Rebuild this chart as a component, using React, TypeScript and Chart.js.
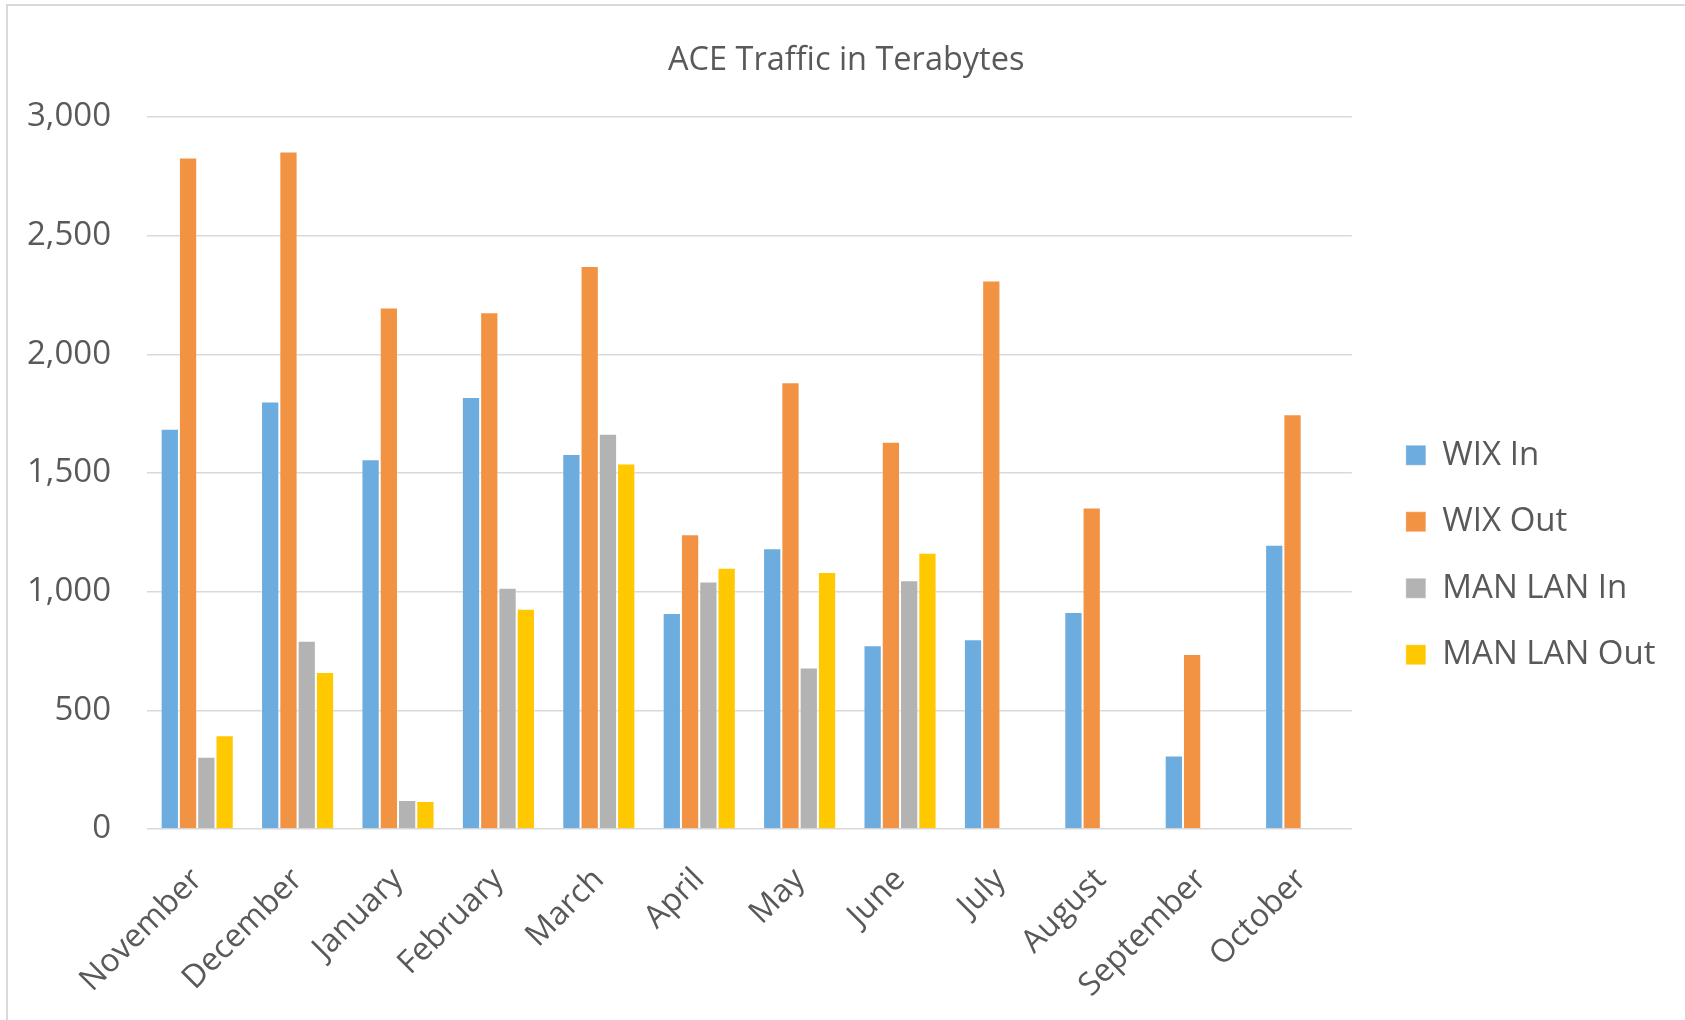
import React, { useEffect, useRef } from "react";
import { Chart, registerables } from "chart.js";

Chart.register(...registerables);

const TITLE = "ACE Traffic in Terabytes";
const months = [
  "November", "December", "January", "February", "March", "April",
  "May", "June", "July", "August", "September", "October",
];
const wixIn = [1686, 1801, 1558, 1820, 1580, 910, 1183, 774, 800, 914, 310, 1198];
const wixOut = [2829, 2855, 2197, 2177, 2372, 1242, 1882, 1632, 2311, 1355, 737, 1748];
const manLanIn = [304, 793, 122, 1017, 1665, 1043, 680, 1048, 2, null, null, null];
const manLanOut = [395, 662, 118, 928, 1540, 1101, 1083, 1164, 6, null, null, null];
const seriesNames = ["WIX In", "WIX Out", "MAN LAN In", "MAN LAN Out"];
const seriesColors = ["#6DACDE", "#F29343", "#B3B3B3", "#FFC800"];
const Y_MIN = 0;
const Y_MAX = 3000;
const Y_STEP = 500;

const W = 1685;
const H = 1110;
const PLOT_LEFT = 147;
const PLOT_BOTTOM = 829;
const LEGEND_GAP = 20.5;
const LEGEND_PAD = 33.5;
const RIGHT_PAD = 19.5;
const LEFT_PAD = 27;
const FONT = "'Open Sans', sans-serif";
const TEXT = "#595959";

export default function App() {
  const ref = useRef<HTMLCanvasElement>(null);

  useEffect(() => {
    const values = [wixIn, wixOut, manLanIn, manLanOut];
    const chart = new Chart(ref.current as HTMLCanvasElement, {
      type: "bar",
      data: {
        labels: months,
        datasets: seriesNames.map((name, i) => ({
          label: name,
          data: values[i] as any,
          backgroundColor: seriesColors[i],
          borderColor: "rgba(255,255,255,0.35)",
          borderWidth: 1,
          categoryPercentage: 0.728,
          barPercentage: 1.0,
        })),
      },
      options: {
        responsive: false,
        animation: false,
        layout: { padding: { left: LEFT_PAD, top: 0, bottom: 0, right: RIGHT_PAD } },
        plugins: {
          title: {
            display: true,
            text: TITLE,
            color: TEXT,
            font: { family: FONT, size: 32.5, weight: "normal" as any },
            padding: { top: 41, bottom: 37 },
          },
          legend: {
            position: "right",
            labels: {
              boxWidth: 20,
              boxHeight: 20,
              padding: LEGEND_PAD,
              color: TEXT,
              font: { family: FONT, size: 33 },
            },
          },
          tooltip: { enabled: false },
        },
        scales: {
          x: {
            grid: { display: false, drawTicks: false },
            border: { display: false },
            ticks: {
              color: TEXT,
              font: { family: FONT, size: 32 },
              maxRotation: 45,
              minRotation: 45,
              autoSkip: false,
              padding: 32,
            },
            afterFit: (s: any) => {
              s.height = H - PLOT_BOTTOM;
            },
          },
          y: {
            min: Y_MIN,
            max: Y_MAX,
            grid: { color: "#D9D9D9", lineWidth: 1.5, drawTicks: false },
            border: { display: false },
            ticks: {
              stepSize: Y_STEP,
              color: TEXT,
              font: { family: FONT, size: 33 },
              padding: 36,
              callback: (v: any) => Number(v).toLocaleString("en-US"),
            },
            afterFit: (s: any) => {
              s.width = PLOT_LEFT - LEFT_PAD;
            },
          },
          yR: {
            position: "right",
            display: false,
            afterFit: (s: any) => {
              s.width = LEGEND_GAP;
            },
          },
        },
      },
    });
    return () => chart.destroy();
  }, []);

  return (
    <div
      style={{
        position: "absolute",
        left: 0,
        top: 0,
        width: W,
        height: 1020,
        overflow: "hidden",
        background: "#fff",
      }}
    >
      <div
        style={{
          position: "absolute",
          left: 6,
          top: 4,
          width: W + 40,
          height: 1100,
          borderTop: "2px solid #D9D9D9",
          borderLeft: "2px solid #D9D9D9",
        }}
      />
      <canvas
        ref={ref}
        width={W}
        height={H}
        style={{ position: "absolute", left: 0, top: 0, width: W, height: H }}
      />
    </div>
  );
}
